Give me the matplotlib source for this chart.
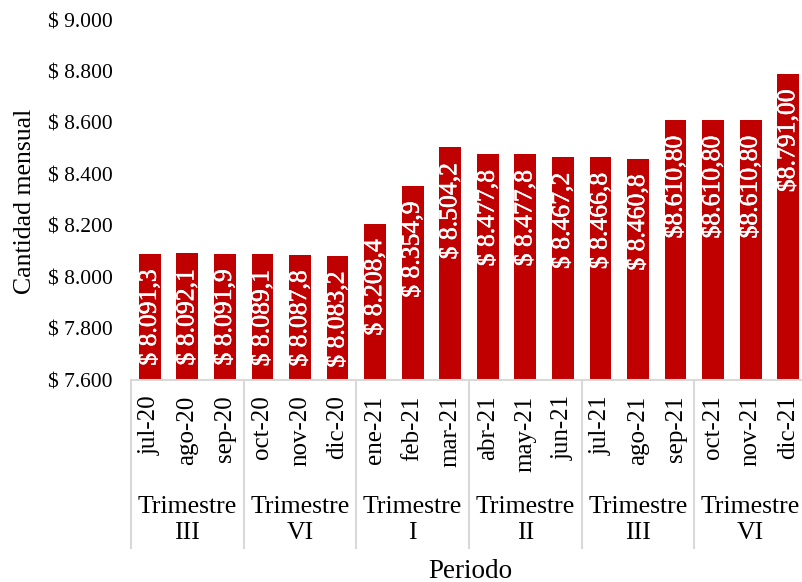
import matplotlib
matplotlib.use("Agg")
import matplotlib.pyplot as plt
from matplotlib.lines import Line2D
import matplotlib.patheffects as pe

plt.rcParams["font.family"] = ["Liberation Serif", "DejaVu Serif"]

months = ["jul-20", "ago-20", "sep-20", "oct-20", "nov-20", "dic-20",
          "ene-21", "feb-21", "mar-21", "abr-21", "may-21", "jun-21",
          "jul-21", "ago-21", "sep-21", "oct-21", "nov-21", "dic-21"]
values = [8091.3, 8092.1, 8091.9, 8089.1, 8087.8, 8083.2,
          8208.4, 8354.9, 8504.2, 8477.8, 8477.8, 8467.2,
          8466.8, 8460.8, 8610.80, 8610.80, 8610.80, 8791.00]
# number of decimals shown in each bar label
label_decimals = [1] * 14 + [2] * 4
quarters = ["Trimestre\nIII", "Trimestre\nVI", "Trimestre\nI",
            "Trimestre\nII", "Trimestre\nIII", "Trimestre\nVI"]
yticks = [7600, 7800, 8000, 8200, 8400, 8600, 8800, 9000]

BAR = "#C00000"
GRID = "#D9D9D9"


def money(v, dec):
    s = f"{v:,.{dec}f}".replace(",", "X").replace(".", ",").replace("X", ".")
    return ("$ " if dec == 1 else "$") + s


def money_tick(v):
    return "$ " + f"{v:,.0f}".replace(",", ".")


W, H = 802, 582
fig = plt.figure(figsize=(W / 100, H / 100), dpi=100)
left, right, top, bottom = 131, 807, 20, 380
ax = fig.add_axes([left / W, 1 - bottom / H, (right - left) / W, (bottom - top) / H])

x = list(range(len(months)))
ax.bar(x, values, width=0.58, color=BAR, zorder=2)
ax.set_xlim(-0.5, len(months) - 0.5)
ax.set_ylim(7600, 9000)

for xi, v, d in zip(x, values, label_decimals):
    ax.annotate(money(v, d), (xi, v), xytext=(0, -11), textcoords="offset points",
                rotation=90, ha="center", va="top", color="white", fontsize=18.5,
                path_effects=[pe.withStroke(linewidth=0.35, foreground="white")])

ax.set_yticks(yticks)
ax.set_yticklabels([money_tick(t) for t in yticks], fontsize=15.5)
ax.tick_params(axis="y", length=0, pad=13)
ax.set_xticks(x)
ax.set_xticklabels(months, rotation=90, fontsize=18, va="top")
ax.tick_params(axis="x", length=0, pad=11)

for s in ["top", "right", "left"]:
    ax.spines[s].set_visible(False)
ax.spines["bottom"].set_color(GRID)
ax.spines["bottom"].set_linewidth(1.5)

# quarter separators below the axis
ax_h = bottom - top
depth = (548 - bottom) / ax_h
n = len(months)
for g in range(len(quarters) + 1):
    xf = (g * 3) / n
    ax.add_line(Line2D([xf, xf], [0, -depth], transform=ax.transAxes,
                       color=GRID, lw=1.5, clip_on=False))
for g, q in enumerate(quarters):
    ax.text(g * 3 + 1, -(520 - bottom) / ax_h, q, transform=ax.get_xaxis_transform(),
            ha="center", va="center", fontsize=18.5, linespacing=1.22)

fig.text(470 / W, 1 - 571 / H, "Periodo", ha="center", va="center", fontsize=19.5)
fig.text(25 / W, 1 - 201 / H, "Cantidad mensual", ha="center", va="center",
         rotation=90, fontsize=18.5)

fig.savefig("out.png", dpi=100)
